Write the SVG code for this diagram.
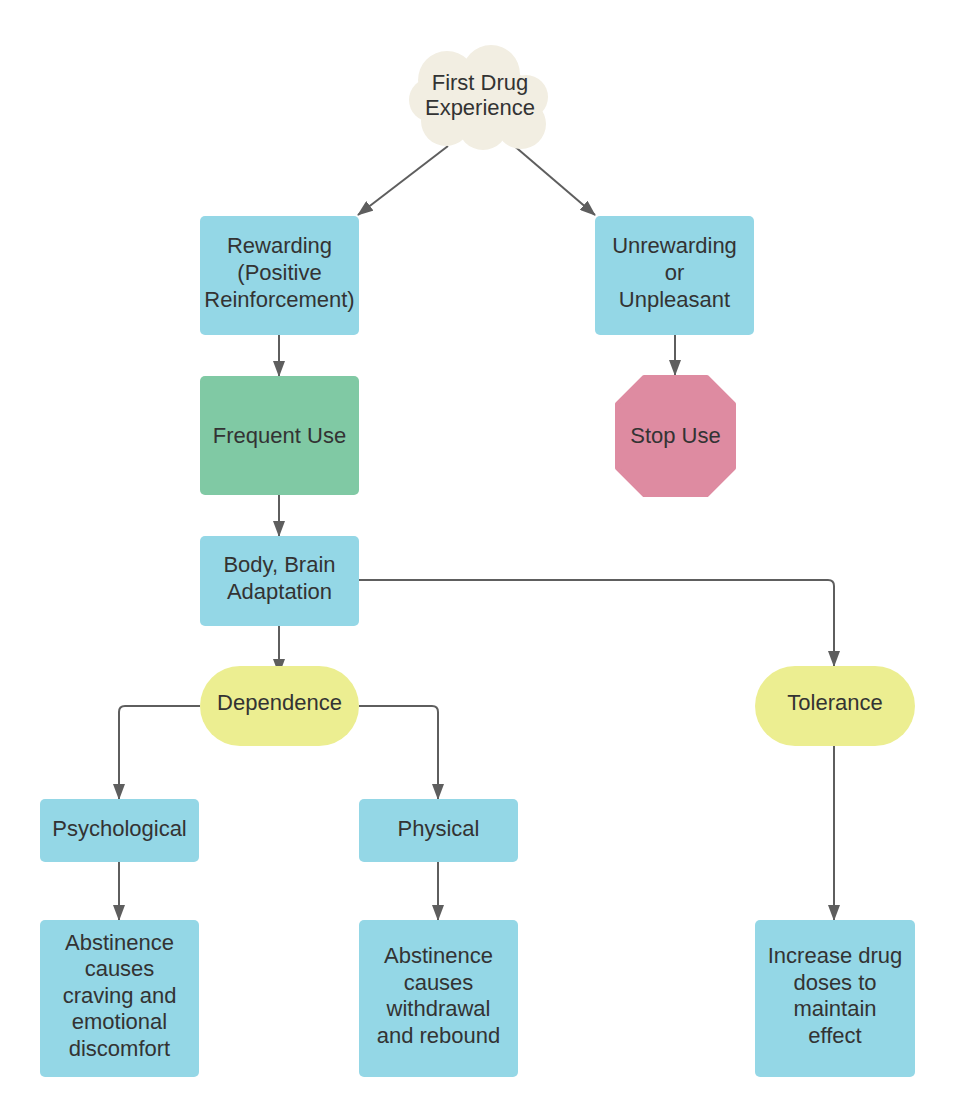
<svg xmlns="http://www.w3.org/2000/svg" width="956" height="1118" viewBox="0 0 956 1118">
<style>
.t{font-family:"Liberation Sans",Arial,sans-serif;font-size:22px;fill:#333333;text-anchor:middle}
.blue{fill:#94d7e6}
.green{fill:#80c9a4}
.yellow{fill:#ecee91}
.pink{fill:#de8ba1}
.cloud{fill:#f2eee2}
.c{fill:none;stroke:#5e5e5e;stroke-width:2;marker-end:url(#ah)}
</style>
<defs>
<marker id="ah" viewBox="0 0 16 12" refX="15" refY="6" markerWidth="16" markerHeight="12" markerUnits="userSpaceOnUse" orient="auto">
<path d="M0,0 L16,6 L0,12 Z" fill="#5e5e5e"/>
</marker>
</defs>
<rect width="956" height="1118" fill="#ffffff"/>
<g id="connectors">
<path class="c" d="M448,146 L358,215"/>
<path class="c" d="M512,144 L595,215"/>
<path class="c" d="M279,335 L279,376"/>
<path class="c" d="M675,335 L675,375"/>
<path class="c" d="M279,495 L279,536"/>
<path class="c" d="M279,626 L279,674"/>
<path class="c" d="M359,580 L828,580 Q834,580 834,586 L834,666"/>
<path class="c" d="M200,706 L125,706 Q119,706 119,712 L119,799"/>
<path class="c" d="M359,706 L432,706 Q438,706 438,712 L438,799"/>
<path class="c" d="M119,862 L119,920"/>
<path class="c" d="M438,862 L438,920"/>
<path class="c" d="M834,746 L834,920"/>
</g>
<g id="first-drug">
<g class="cloud">
<ellipse cx="480" cy="100" rx="54" ry="38"/>
<circle cx="447" cy="80" r="29"/>
<circle cx="491" cy="74" r="29"/>
<circle cx="526" cy="97" r="22"/>
<circle cx="521" cy="124" r="25"/>
<circle cx="483" cy="125" r="25"/>
<circle cx="446" cy="121" r="25"/>
<circle cx="431" cy="100" r="22"/>
</g>
<text class="t" x="480" y="90">First Drug</text>
<text class="t" x="480" y="115">Experience</text>
</g>
<g id="rewarding">
<rect class="blue" x="200" y="216" width="159" height="119" rx="5"/>
<text class="t" x="279.5" y="253">Rewarding</text>
<text class="t" x="279.5" y="280">(Positive</text>
<text class="t" x="279.5" y="307">Reinforcement)</text>
</g>
<g id="unrewarding">
<rect class="blue" x="595" y="216" width="159" height="119" rx="5"/>
<text class="t" x="674.5" y="253">Unrewarding</text>
<text class="t" x="674.5" y="280">or</text>
<text class="t" x="674.5" y="307">Unpleasant</text>
</g>
<g id="frequent-use">
<rect class="green" x="200" y="376" width="159" height="119" rx="5"/>
<text class="t" x="279.5" y="443">Frequent Use</text>
</g>
<g id="stop-use">
<polygon class="pink" points="644,377 707,377 734,404 734,468 707,495 644,495 617,468 617,404" stroke="#de8ba1" stroke-width="4" stroke-linejoin="round"/>
<text class="t" x="675.5" y="443">Stop Use</text>
</g>
<g id="adaptation">
<rect class="blue" x="200" y="536" width="159" height="90" rx="5"/>
<text class="t" x="279.5" y="572">Body, Brain</text>
<text class="t" x="279.5" y="599">Adaptation</text>
</g>
<g id="dependence">
<rect class="yellow" x="200" y="666" width="159" height="80" rx="40"/>
<text class="t" x="279.5" y="710">Dependence</text>
</g>
<g id="tolerance">
<rect class="yellow" x="755" y="666" width="160" height="80" rx="40"/>
<text class="t" x="835" y="710">Tolerance</text>
</g>
<g id="psychological">
<rect class="blue" x="40" y="799" width="159" height="63" rx="5"/>
<text class="t" x="119.5" y="836">Psychological</text>
</g>
<g id="physical">
<rect class="blue" x="359" y="799" width="159" height="63" rx="5"/>
<text class="t" x="438.5" y="836">Physical</text>
</g>
<g id="craving">
<rect class="blue" x="40" y="920" width="159" height="157" rx="5"/>
<text class="t" x="119.5" y="950">Abstinence</text>
<text class="t" x="119.5" y="976">causes</text>
<text class="t" x="119.5" y="1003">craving and</text>
<text class="t" x="119.5" y="1029">emotional</text>
<text class="t" x="119.5" y="1056">discomfort</text>
</g>
<g id="withdrawal">
<rect class="blue" x="359" y="920" width="159" height="157" rx="5"/>
<text class="t" x="438.5" y="963">Abstinence</text>
<text class="t" x="438.5" y="990">causes</text>
<text class="t" x="438.5" y="1016">withdrawal</text>
<text class="t" x="438.5" y="1043">and rebound</text>
</g>
<g id="increase-dose">
<rect class="blue" x="755" y="920" width="160" height="157" rx="5"/>
<text class="t" x="835" y="963">Increase drug</text>
<text class="t" x="835" y="990">doses to</text>
<text class="t" x="835" y="1016">maintain</text>
<text class="t" x="835" y="1043">effect</text>
</g>
</svg>
